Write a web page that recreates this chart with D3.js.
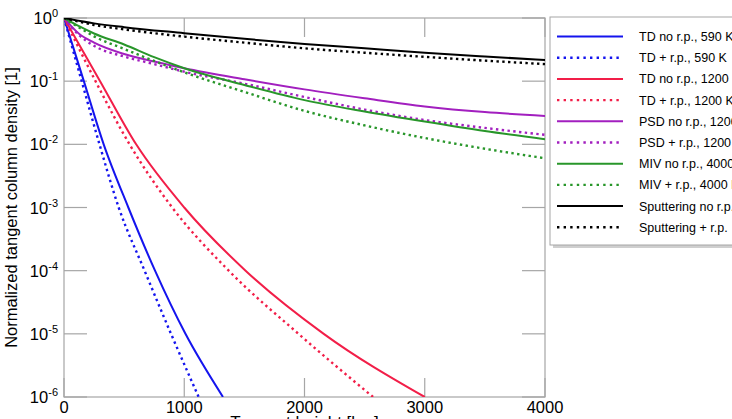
<!DOCTYPE html>
<html>
<head>
<meta charset="utf-8">
<script src="https://cdn.jsdelivr.net/npm/d3@7"></script>
<style>
  body { margin: 0; background: #fff; overflow: hidden; }
  svg { display: block; font-family: 'Liberation Sans', Arial, sans-serif; }
</style>
</head>
<body>
<div id="chart"></div>
<script>
// series data: x = tangent height, y = normalized column density
var xGrid = [0, 125, 250, 500, 750, 1000, 1500, 2000, 2500, 3000, 3500, 4000];
var xGridSlow = [0, 250, 500, 1000, 1500, 2000, 2500, 3000, 3500, 4000];

// fast decaying curves, points where each decade is crossed
var decades = [1, 1e-1, 1e-2, 1e-3, 1e-4, 1e-5, 1e-6];
var tdNo590X = [0, 165, 330, 535, 757, 1010, 1322];
var tdRp590X = [0, 147, 295, 455, 670, 890, 1120];
var tdNo1200X = [0, 300, 600, 1000, 1510, 2160, 3000];
var tdRp1200X = [0, 262, 545, 900, 1370, 1950, 2570];

// log10 of the slower curves
var psdNoLog = [0, -0.25, -0.39, -0.57, -0.69, -0.795, -0.97, -1.13, -1.27, -1.40, -1.49, -1.55];
var psdRpLog = [0, -0.27, -0.44, -0.61, -0.73, -0.85, -1.04, -1.25, -1.45, -1.615, -1.74, -1.85];
var mivNoLog = [0, -0.13, -0.245, -0.42, -0.62, -0.795, -1.06, -1.30, -1.48, -1.64, -1.79, -1.92];
var mivRpLog = [0, -0.15, -0.29, -0.49, -0.68, -0.86, -1.17, -1.47, -1.70, -1.90, -2.07, -2.22];
var sputNoLog = [0, -0.085, -0.145, -0.24, -0.33, -0.41, -0.48, -0.55, -0.61, -0.665];
var sputRpLog = [0, -0.11, -0.18, -0.295, -0.39, -0.48, -0.55, -0.615, -0.675, -0.73];

var legendLabels = ['TD no r.p., 590 K', 'TD + r.p., 590 K', 'TD no r.p., 1200 K', 'TD + r.p., 1200 K',
    'PSD no r.p., 1200 K', 'PSD + r.p., 1200 K', 'MIV no r.p., 4000 K', 'MIV + r.p., 4000 K',
    'Sputtering no r.p.', 'Sputtering + r.p.'];
var xTicks = [0, 1000, 2000, 3000, 4000];
var yTickExp = [0, -1, -2, -3, -4, -5, -6];

function fromDecades(xs) {
    return xs.map(function (x, i) { return [x, decades[i]]; });
}
function fromLog(xs, logs) {
    return logs.map(function (l, i) { return [xs[i], Math.pow(10, l)]; });
}

var blue = '#1414ee', red = '#f21e48', purple = '#a21fbf', green = '#28962a', black = '#000';
var series = [
    { pts: fromDecades(tdNo590X), color: blue, dotted: false },
    { pts: fromDecades(tdRp590X), color: blue, dotted: true },
    { pts: fromDecades(tdNo1200X), color: red, dotted: false },
    { pts: fromDecades(tdRp1200X), color: red, dotted: true },
    { pts: fromLog(xGrid, psdNoLog), color: purple, dotted: false },
    { pts: fromLog(xGrid, psdRpLog), color: purple, dotted: true },
    { pts: fromLog(xGrid, mivNoLog), color: green, dotted: false },
    { pts: fromLog(xGrid, mivRpLog), color: green, dotted: true },
    { pts: fromLog(xGridSlow, sputNoLog), color: black, dotted: false },
    { pts: fromLog(xGridSlow, sputRpLog), color: black, dotted: true }
];

function draw() {
    var width = 732, height = 419;
    var pL = 64, pR = 545, pT = 18, pB = 397;

    var svg = d3.select('#chart').append('svg').attr('width', width).attr('height', height);
    svg.append('rect').attr('width', width).attr('height', height).attr('fill', '#fff');

    var x = d3.scaleLinear().domain([0, 4000]).range([pL, pR]);
    var y = d3.scaleLog().domain([1e-6, 1]).range([pB, pT]);

    svg.append('defs').append('clipPath').attr('id', 'clip')
        .append('rect').attr('x', pL).attr('y', pT).attr('width', pR - pL).attr('height', pB - pT);

    // frame
    var frameColor = '#a6a6a6';
    svg.append('rect').attr('x', pL).attr('y', pT).attr('width', pR - pL).attr('height', pB - pT)
        .attr('fill', 'none').attr('stroke', frameColor).attr('stroke-width', 1.2);

    // ticks, inside on all four sides
    var xt = 19, yt = 23;
    xTicks.forEach(function (t) {
        svg.append('line').attr('x1', x(t)).attr('x2', x(t)).attr('y1', pB).attr('y2', pB - xt)
            .attr('stroke', frameColor).attr('stroke-width', 1.2);
        svg.append('line').attr('x1', x(t)).attr('x2', x(t)).attr('y1', pT).attr('y2', pT + xt)
            .attr('stroke', frameColor).attr('stroke-width', 1.2);
        svg.append('text').attr('x', x(t)).attr('y', 413).attr('text-anchor', 'middle')
            .attr('font-size', '16.5px').attr('fill', '#000').text(t);
    });
    yTickExp.forEach(function (e) {
        var v = Math.pow(10, e);
        svg.append('line').attr('x1', pL).attr('x2', pL + yt).attr('y1', y(v)).attr('y2', y(v))
            .attr('stroke', frameColor).attr('stroke-width', 1.2);
        svg.append('line').attr('x1', pR).attr('x2', pR - yt).attr('y1', y(v)).attr('y2', y(v))
            .attr('stroke', frameColor).attr('stroke-width', 1.2);
        var lbl = svg.append('text').attr('x', 58).attr('y', y(v) + 6).attr('text-anchor', 'end')
            .attr('font-size', '16.5px').attr('fill', '#000');
        lbl.append('tspan').text('10');
        lbl.append('tspan').attr('dy', -7).attr('font-size', '11px').text(e);
    });

    // axis titles (x title mostly below the visible window, as in the source)
    svg.append('text').attr('transform', 'translate(17,' + (pT + pB) / 2 + ') rotate(-90)')
        .attr('text-anchor', 'middle').attr('font-size', '16.5px').attr('fill', '#000')
        .text('Normalized tangent column density [1]');
    svg.append('text').attr('x', (pL + pR) / 2).attr('y', 428).attr('text-anchor', 'middle')
        .attr('font-size', '17px').attr('fill', '#000').text('Tangent height [km]');

    // curves
    var line = d3.line().x(function (d) { return x(d[0]); }).y(function (d) { return y(d[1]); })
        .curve(d3.curveMonotoneX);
    var plot = svg.append('g').attr('clip-path', 'url(#clip)');
    series.forEach(function (s) {
        plot.append('path').attr('d', line(s.pts)).attr('fill', 'none')
            .attr('stroke', s.color).attr('stroke-width', s.dotted ? 2.4 : 2)
            .attr('stroke-dasharray', s.dotted ? '2.4,3.4' : null);
    });

    // legend with shadow
    var lx = 550, ly = 17, lw = 200, lh = 228;
    svg.append('rect').attr('x', lx + 3).attr('y', ly + 3).attr('width', lw).attr('height', lh)
        .attr('fill', '#cfcfcf');
    svg.append('rect').attr('x', lx).attr('y', ly).attr('width', lw).attr('height', lh)
        .attr('fill', '#fff').attr('stroke', '#a6a6a6').attr('stroke-width', 1);
    legendLabels.forEach(function (lab, i) {
        var s = series[i];
        var yy = 36.5 + i * 21.2;
        svg.append('line').attr('x1', 557).attr('x2', 623).attr('y1', yy).attr('y2', yy)
            .attr('stroke', s.color).attr('stroke-width', s.dotted ? 2.4 : 2)
            .attr('stroke-dasharray', s.dotted ? '2.4,4.2' : null);
        svg.append('text').attr('x', 639).attr('y', yy + 4.5).attr('font-size', '12.5px')
            .attr('fill', '#000').text(lab);
    });
}
draw();
</script>
</body>
</html>
